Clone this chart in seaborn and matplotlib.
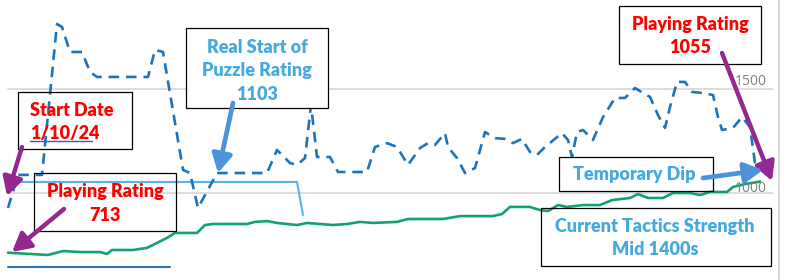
import matplotlib
matplotlib.use('Agg')
import matplotlib.pyplot as plt
import seaborn as sns
import pandas as pd
from matplotlib.patches import Rectangle, FancyArrowPatch
from matplotlib.lines import Line2D

sns.set_theme(style='white')
plt.rcParams['font.family'] = ['Lato', 'DejaVu Sans']

# ---------------- data ----------------
tactics_day = [0, 2.5, 8.5, 12.25, 13.5, 15.5, 18.5, 20.5, 22.25, 35, 36.75, 38.75,
               43.75, 45.5, 47.5, 52.25, 64.75, 67.25, 70.5, 72.25, 74.25, 75.75,
               77.25, 80.5, 82.5, 89.75, 91.75, 94.75, 97.25, 100, 103, 105, 106.75,
               109.25, 110, 112.25, 114.25, 116.75, 119.25, 121.75, 124.25, 126.25,
               128.5, 130.5, 132.25, 134.25, 138.5, 140, 141, 142.25, 143.75, 146.25,
               148.75, 151.75, 154.25, 156.75, 158.75, 160.5, 162.5, 164.25, 165.5,
               167.25, 169.25, 171, 173.5, 176.25, 177.5, 178.5, 181.25, 183.5,
               185.5, 186.75, 188]
tactics_rating = [928, 1087, 1087, 1813, 1798, 1678, 1678, 1582, 1558, 1558, 1688, 1678,
                  1111, 1096, 928, 1096, 1096, 1207, 1144, 1135, 1168, 1423,
                  1173, 1173, 1101, 1101, 1221, 1240, 1221, 1135, 1216, 1240, 1231,
                  1288, 1221, 1168, 1096, 1120, 1293, 1264, 1260, 1240,
                  1260, 1197, 1183, 1221, 1288, 1255, 1173, 1293, 1303, 1255,
                  1365, 1457, 1457, 1505, 1481, 1462, 1375, 1313, 1413,
                  1534, 1534, 1486, 1481, 1471, 1365, 1303, 1313, 1365,
                  1317, 1144, 1120]

playing_day = [0, 10, 13.75, 18, 23, 24.75, 26, 31.25, 34.75, 37.25, 39.75, 41.75,
               47.25, 49.25, 51.25, 59.75, 61.75, 64.75, 67.25, 72.25, 74.75, 81.25,
               84.75, 88, 91.25, 97.25, 100, 108.75, 113, 121.25, 123.5, 125.5, 130.5,
               133, 135, 137.5, 139.75, 143.75, 148, 151, 155.5, 157.5, 160, 163.75,
               166.25, 170.5, 173, 175.5, 179.75, 181.25, 184.25, 188]
playing_rating = [713, 702, 721, 716, 716, 707, 726, 726, 736, 760, 784, 808,
                  808, 846, 851, 851, 861, 865, 856, 846, 856, 846,
                  851, 861, 856, 861, 875, 875, 889, 889, 899, 933, 933,
                  918, 913, 942, 933, 942, 942, 966, 976, 995, 976, 976,
                  1000, 1000, 990, 1005, 1005, 1029, 1043, 1055]

puzzle_day = [0, 72.25, 73.75]
puzzle_rating = [1053, 1053, 894]

prior_day = [0, 40.5]
prior_rating = [644, 644]

grid_values = [1000, 1500]
grid_labels = ['1000', '1500']

# ---------------- figure ----------------
W, H = 788, 280
fig = plt.figure(figsize=(W / 100, H / 100), dpi=100)
ax = fig.add_axes([0, 0, 1, 1])
ax.set_axis_off()


def fx(x):
    return x / W


def fy(y):
    return 1 - y / H


for v in grid_values:
    ax.axhline(v, xmin=8 / W, xmax=773 / W, color='#d9d9d9', lw=1.3, zorder=1)

sns.lineplot(x=prior_day, y=prior_rating, ax=ax, color='#2E75B6', lw=1.5, zorder=2)
sns.lineplot(x=puzzle_day, y=puzzle_rating, ax=ax, color='#5DB2EA', lw=1.5, zorder=2)
sns.lineplot(x=playing_day, y=playing_rating, ax=ax, color='#12A26A', lw=1.9, zorder=3,
             sort=False)
sns.lineplot(x=tactics_day, y=tactics_rating, ax=ax, color='#1C75BC', lw=1.9, zorder=4,
             sort=False)
ax.lines[-1].set_linestyle((0, (4.0, 2.6)))

ax.set_xlim(-2, 195)
ax.set_ylim(581.7, 1927.9)

# axis labels (right side, inside)
fig.text(fx(767), fy(85), grid_labels[1], ha='right', va='baseline',
         color='#7f7f7f', fontsize=10, family=['Open Sans', 'DejaVu Sans'])
fig.text(fx(767), fy(192), grid_labels[0], ha='right', va='baseline',
         color='#7f7f7f', fontsize=10, family=['Open Sans', 'DejaVu Sans'])

# right border line
fig.add_artist(Line2D([fx(778.5), fx(778.5)], [0, 1], color='#d0d0d0', lw=1.2))

# ---------------- annotation boxes ----------------
def box(x0, y0, x1, y1, fill=False):
    r = Rectangle((fx(x0), fy(y1)), (x1 - x0) / W, (y1 - y0) / H,
                  transform=fig.transFigure, fill=fill, facecolor='white',
                  edgecolor='black', lw=0.9, zorder=5)
    fig.add_artist(r)


RED = '#FF0000'
LBLUE = '#45A9E0'
FS = 13


def txt(x, y, s, c, ha='center'):
    fig.text(fx(x), fy(y), s, ha=ha, va='baseline', color=c, fontsize=FS,
             fontweight='heavy', zorder=6)


box(18, 92, 132, 149)
txt(30, 116, 'Start Date', RED, ha='left')
txt(30, 139, '1/10/24', RED, ha='left')
fig.add_artist(Line2D([fx(30), fx(92)], [fy(141), fy(141)], color='#1F5FD6', lw=1.0, zorder=6))

box(186, 28, 328, 108, fill=True)
txt(257, 53, 'Real Start of', LBLUE)
txt(257, 76, 'Puzzle Rating', LBLUE)
txt(257, 100, '1103', LBLUE)

box(619, 6, 761, 64)
txt(690, 30, 'Playing Rating', RED)
txt(690, 53, '1055', RED)

box(34, 173, 176, 231)
txt(105, 197, 'Playing Rating', RED)
txt(105, 221, '713', RED)

box(559, 157, 713, 191)
txt(634, 180, 'Temporary Dip', LBLUE)

box(541, 208, 771, 266)
txt(655, 232, 'Current Tactics Strength', LBLUE)
txt(655, 255, 'Mid 1400s', LBLUE)

# ---------------- arrows ----------------
PURPLE = '#93298F'
ABLUE = '#4D93DC'


def arrow(x0, y0, x1, y1, c, lw):
    a = FancyArrowPatch((fx(x0), fy(y0)), (fx(x1), fy(y1)), transform=fig.transFigure,
                        arrowstyle='-|>,head_length=0.55,head_width=0.3',
                        mutation_scale=20, color=c, lw=lw, zorder=7,
                        shrinkA=0, shrinkB=0)
    fig.add_artist(a)


arrow(22, 147, 7, 196, PURPLE, 3.2)
arrow(64, 209, 12, 252, PURPLE, 3.2)
arrow(722, 53, 772, 181, PURPLE, 3.2)
arrow(233, 103, 218, 173, ABLUE, 3.4)
arrow(703, 178, 763, 170, ABLUE, 3.4)

fig.savefig('out.png', dpi=100)
